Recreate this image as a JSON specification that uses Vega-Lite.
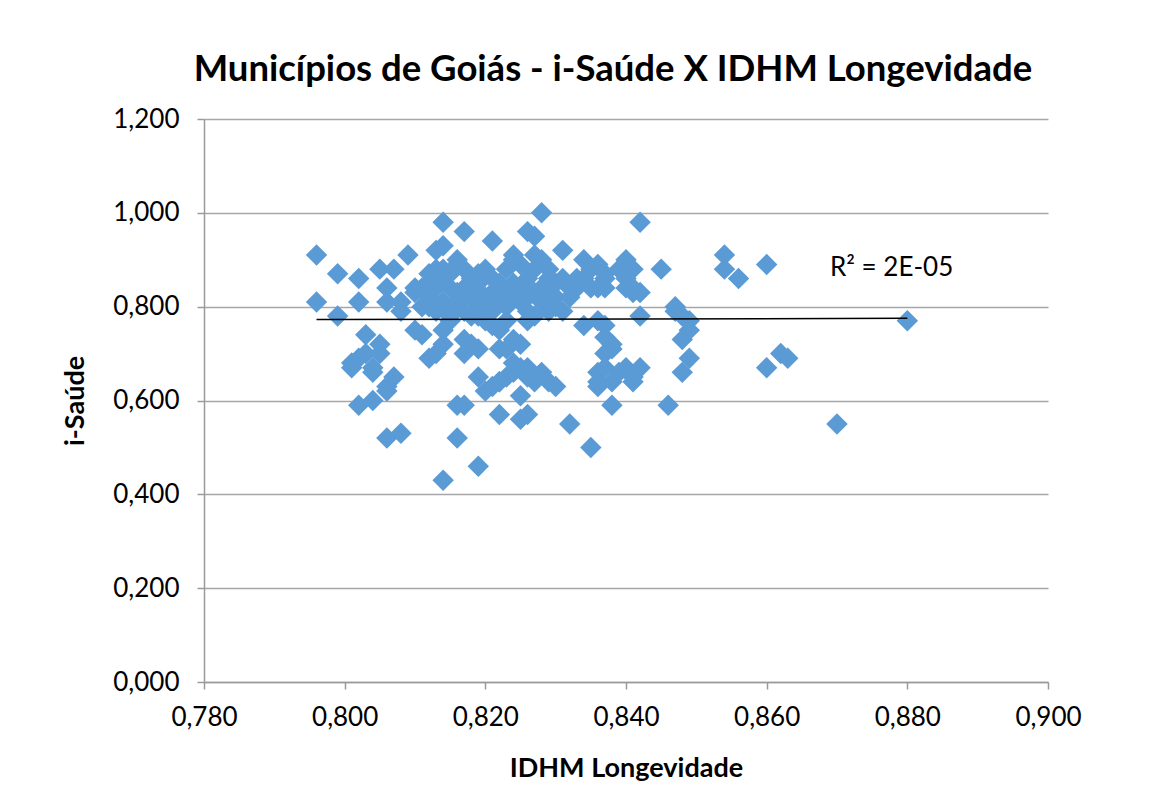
{
  "$schema": "https://vega.github.io/schema/vega-lite/v6.json",
  "width": 844,
  "height": 563,
  "autosize": {"type": "none"},
  "padding": {"left": 204, "top": 119, "right": 119, "bottom": 123},
  "background": "white",
  "title": {
    "text": "Municípios de Goiás - i-Saúde X IDHM Longevidade",
    "font": "Lato",
    "fontSize": 36.5,
    "fontWeight": "bold",
    "color": "#000000",
    "anchor": "middle",
    "dx": -13,
    "offset": 18
  },
  "datasets": {
    "pts": [
      {"idhm":0.796,"isaude":0.91},{"idhm":0.796,"isaude":0.81},{"idhm":0.799,"isaude":0.87},{"idhm":0.799,"isaude":0.78},{"idhm":0.802,"isaude":0.86},{"idhm":0.802,"isaude":0.81},{"idhm":0.805,"isaude":0.88},{"idhm":0.807,"isaude":0.88},{"idhm":0.809,"isaude":0.91},{"idhm":0.806,"isaude":0.84},{"idhm":0.806,"isaude":0.81},{"idhm":0.808,"isaude":0.81},{"idhm":0.808,"isaude":0.79},{"idhm":0.810,"isaude":0.84},{"idhm":0.810,"isaude":0.83},
      {"idhm":0.803,"isaude":0.74},{"idhm":0.805,"isaude":0.72},{"idhm":0.805,"isaude":0.70},{"idhm":0.801,"isaude":0.68},{"idhm":0.802,"isaude":0.69},{"idhm":0.804,"isaude":0.66},{"idhm":0.804,"isaude":0.67},{"idhm":0.807,"isaude":0.65},{"idhm":0.806,"isaude":0.63},{"idhm":0.806,"isaude":0.62},{"idhm":0.802,"isaude":0.59},{"idhm":0.804,"isaude":0.60},{"idhm":0.806,"isaude":0.52},{"idhm":0.808,"isaude":0.53},{"idhm":0.801,"isaude":0.67},{"idhm":0.803,"isaude":0.70},
      {"idhm":0.814,"isaude":0.98},{"idhm":0.817,"isaude":0.96},{"idhm":0.821,"isaude":0.94},{"idhm":0.813,"isaude":0.92},{"idhm":0.814,"isaude":0.93},{"idhm":0.816,"isaude":0.90},{"idhm":0.812,"isaude":0.87},{"idhm":0.813,"isaude":0.88},{"idhm":0.817,"isaude":0.88},{"idhm":0.819,"isaude":0.87},{"idhm":0.820,"isaude":0.88},{"idhm":0.821,"isaude":0.86},{"idhm":0.811,"isaude":0.84},{"idhm":0.815,"isaude":0.84},{"idhm":0.817,"isaude":0.84},{"idhm":0.820,"isaude":0.82},{"idhm":0.823,"isaude":0.83},{"idhm":0.812,"isaude":0.82},{"idhm":0.814,"isaude":0.81},{"idhm":0.816,"isaude":0.81},{"idhm":0.818,"isaude":0.82},{"idhm":0.821,"isaude":0.79},{"idhm":0.813,"isaude":0.79},{"idhm":0.815,"isaude":0.78},{"idhm":0.818,"isaude":0.78},{"idhm":0.820,"isaude":0.77},{"idhm":0.823,"isaude":0.77},{"idhm":0.810,"isaude":0.75},{"idhm":0.811,"isaude":0.80},{"idhm":0.812,"isaude":0.85},{"idhm":0.814,"isaude":0.86},{"idhm":0.815,"isaude":0.87},{"idhm":0.816,"isaude":0.89},{"idhm":0.818,"isaude":0.85},{"idhm":0.819,"isaude":0.83},{"idhm":0.822,"isaude":0.85},{"idhm":0.822,"isaude":0.81},{"idhm":0.819,"isaude":0.80},{"idhm":0.816,"isaude":0.83},{"idhm":0.813,"isaude":0.84},{"idhm":0.815,"isaude":0.80},{"idhm":0.817,"isaude":0.82},{"idhm":0.820,"isaude":0.80},{"idhm":0.821,"isaude":0.83},{"idhm":0.818,"isaude":0.86},{"idhm":0.814,"isaude":0.88},{"idhm":0.812,"isaude":0.80},{"idhm":0.817,"isaude":0.79},{"idhm":0.819,"isaude":0.85},
      {"idhm":0.811,"isaude":0.74},{"idhm":0.812,"isaude":0.69},{"idhm":0.814,"isaude":0.75},{"idhm":0.814,"isaude":0.72},{"idhm":0.817,"isaude":0.73},{"idhm":0.817,"isaude":0.70},{"idhm":0.819,"isaude":0.71},{"idhm":0.819,"isaude":0.65},{"idhm":0.820,"isaude":0.62},{"idhm":0.822,"isaude":0.64},{"idhm":0.822,"isaude":0.71},{"idhm":0.816,"isaude":0.59},{"idhm":0.817,"isaude":0.59},{"idhm":0.822,"isaude":0.57},{"idhm":0.816,"isaude":0.52},{"idhm":0.819,"isaude":0.46},{"idhm":0.814,"isaude":0.43},{"idhm":0.815,"isaude":0.77},{"idhm":0.819,"isaude":0.78},{"idhm":0.821,"isaude":0.76},{"idhm":0.818,"isaude":0.72},{"idhm":0.813,"isaude":0.70},{"idhm":0.822,"isaude":0.75},{"idhm":0.821,"isaude":0.63},
      {"idhm":0.828,"isaude":1.00},{"idhm":0.826,"isaude":0.96},{"idhm":0.827,"isaude":0.95},{"idhm":0.831,"isaude":0.92},{"idhm":0.827,"isaude":0.91},{"idhm":0.824,"isaude":0.91},{"idhm":0.825,"isaude":0.89},{"idhm":0.829,"isaude":0.88},{"idhm":0.824,"isaude":0.90},{"idhm":0.828,"isaude":0.90},{"idhm":0.823,"isaude":0.88},{"idhm":0.824,"isaude":0.85},{"idhm":0.826,"isaude":0.86},{"idhm":0.828,"isaude":0.84},{"idhm":0.830,"isaude":0.85},{"idhm":0.824,"isaude":0.82},{"idhm":0.826,"isaude":0.82},{"idhm":0.830,"isaude":0.82},{"idhm":0.831,"isaude":0.79},{"idhm":0.829,"isaude":0.79},{"idhm":0.826,"isaude":0.79},{"idhm":0.826,"isaude":0.77},{"idhm":0.827,"isaude":0.78},{"idhm":0.830,"isaude":0.80},{"idhm":0.832,"isaude":0.84},{"idhm":0.833,"isaude":0.84},{"idhm":0.831,"isaude":0.86},{"idhm":0.829,"isaude":0.86},{"idhm":0.825,"isaude":0.84},{"idhm":0.827,"isaude":0.83},{"idhm":0.828,"isaude":0.81},{"idhm":0.832,"isaude":0.82},{"idhm":0.823,"isaude":0.80},{"idhm":0.825,"isaude":0.81},{"idhm":0.827,"isaude":0.88},{"idhm":0.826,"isaude":0.83},{"idhm":0.829,"isaude":0.83},
      {"idhm":0.825,"isaude":0.72},{"idhm":0.824,"isaude":0.73},{"idhm":0.824,"isaude":0.68},{"idhm":0.826,"isaude":0.67},{"idhm":0.828,"isaude":0.66},{"idhm":0.830,"isaude":0.63},{"idhm":0.825,"isaude":0.61},{"idhm":0.825,"isaude":0.56},{"idhm":0.826,"isaude":0.57},{"idhm":0.832,"isaude":0.55},{"idhm":0.823,"isaude":0.71},{"idhm":0.823,"isaude":0.65},{"idhm":0.824,"isaude":0.66},{"idhm":0.825,"isaude":0.67},{"idhm":0.827,"isaude":0.64},{"idhm":0.829,"isaude":0.64},{"idhm":0.822,"isaude":0.64},{"idhm":0.826,"isaude":0.65},
      {"idhm":0.834,"isaude":0.90},{"idhm":0.835,"isaude":0.88},{"idhm":0.836,"isaude":0.89},{"idhm":0.837,"isaude":0.86},{"idhm":0.834,"isaude":0.86},{"idhm":0.833,"isaude":0.86},{"idhm":0.836,"isaude":0.84},{"idhm":0.835,"isaude":0.84},{"idhm":0.837,"isaude":0.84},{"idhm":0.839,"isaude":0.88},{"idhm":0.842,"isaude":0.98},{"idhm":0.840,"isaude":0.90},{"idhm":0.840,"isaude":0.88},{"idhm":0.841,"isaude":0.88},{"idhm":0.837,"isaude":0.87},{"idhm":0.840,"isaude":0.86},{"idhm":0.841,"isaude":0.84},{"idhm":0.841,"isaude":0.83},{"idhm":0.842,"isaude":0.83},{"idhm":0.842,"isaude":0.78},{"idhm":0.840,"isaude":0.84},{"idhm":0.834,"isaude":0.76},{"idhm":0.836,"isaude":0.77},{"idhm":0.837,"isaude":0.76},{"idhm":0.837,"isaude":0.735},{"idhm":0.838,"isaude":0.72},{"idhm":0.837,"isaude":0.70},{"idhm":0.838,"isaude":0.71},{"idhm":0.836,"isaude":0.66},{"idhm":0.836,"isaude":0.64},{"idhm":0.838,"isaude":0.64},{"idhm":0.836,"isaude":0.63},{"idhm":0.840,"isaude":0.67},{"idhm":0.842,"isaude":0.67},{"idhm":0.841,"isaude":0.64},{"idhm":0.841,"isaude":0.65},{"idhm":0.838,"isaude":0.59},{"idhm":0.835,"isaude":0.50},{"idhm":0.839,"isaude":0.66},{"idhm":0.837,"isaude":0.67},
      {"idhm":0.845,"isaude":0.88},{"idhm":0.846,"isaude":0.59},{"idhm":0.847,"isaude":0.79},{"idhm":0.847,"isaude":0.80},{"idhm":0.848,"isaude":0.78},{"idhm":0.849,"isaude":0.77},{"idhm":0.849,"isaude":0.75},{"idhm":0.848,"isaude":0.73},{"idhm":0.849,"isaude":0.69},{"idhm":0.848,"isaude":0.66},{"idhm":0.854,"isaude":0.91},{"idhm":0.854,"isaude":0.88},{"idhm":0.856,"isaude":0.86},{"idhm":0.860,"isaude":0.89},{"idhm":0.862,"isaude":0.70},{"idhm":0.863,"isaude":0.69},{"idhm":0.860,"isaude":0.67},{"idhm":0.870,"isaude":0.55},{"idhm":0.880,"isaude":0.77}
    ],
    "note": [{"idhm": 0.869, "isaude": 0.883, "label": "R² = 2E-05"}]
  },
  "config": {
    "view": {"stroke": null},
    "axis": {
      "labelFont": "Lato",
      "labelFontSize": 26,
      "labelColor": "#000000",
      "labelFlush": false,
      "titleFont": "Lato",
      "titleFontSize": 27,
      "titleFontWeight": "bold",
      "titleColor": "#000000",
      "domainColor": "#9a9a9a",
      "domainWidth": 1.5,
      "tickColor": "#9a9a9a",
      "tickWidth": 1.5,
      "tickSize": 7,
      "gridColor": "#a6a6a6",
      "gridWidth": 1.5
    }
  },
  "layer": [
    {
      "data": {"name": "pts"},
      "mark": {"type": "point", "shape": "diamond", "filled": true, "size": 460, "color": "#5B9BD5", "opacity": 1},
      "encoding": {
        "x": {
          "field": "idhm", "type": "quantitative",
          "scale": {"domain": [0.78, 0.9], "zero": false, "nice": false},
          "axis": {
            "values": [0.78, 0.8, 0.82, 0.84, 0.86, 0.88, 0.9],
            "labelExpr": "replace(format(datum.value, '.3f'), '.', ',')",
            "grid": false,
            "labelPadding": 15,
            "title": "IDHM Longevidade",
            "titlePadding": 25
          }
        },
        "y": {
          "field": "isaude", "type": "quantitative",
          "scale": {"domain": [0, 1.2], "nice": false},
          "axis": {
            "values": [0, 0.2, 0.4, 0.6, 0.8, 1.0, 1.2],
            "labelExpr": "replace(format(datum.value, '.3f'), '.', ',')",
            "grid": true,
            "labelPadding": 18,
            "title": "i-Saúde",
            "titlePadding": 23
          }
        }
      }
    },
    {
      "data": {"name": "pts"},
      "transform": [{"regression": "isaude", "on": "idhm"}],
      "mark": {"type": "line", "color": "#000000", "strokeWidth": 1.5},
      "encoding": {
        "x": {"field": "idhm", "type": "quantitative"},
        "y": {"field": "isaude", "type": "quantitative"}
      }
    },
    {
      "data": {"name": "note"},
      "mark": {"type": "text", "align": "left", "baseline": "middle", "font": "Lato", "fontSize": 26, "color": "#000000"},
      "encoding": {
        "x": {"field": "idhm", "type": "quantitative"},
        "y": {"field": "isaude", "type": "quantitative"},
        "text": {"field": "label"}
      }
    }
  ]
}
